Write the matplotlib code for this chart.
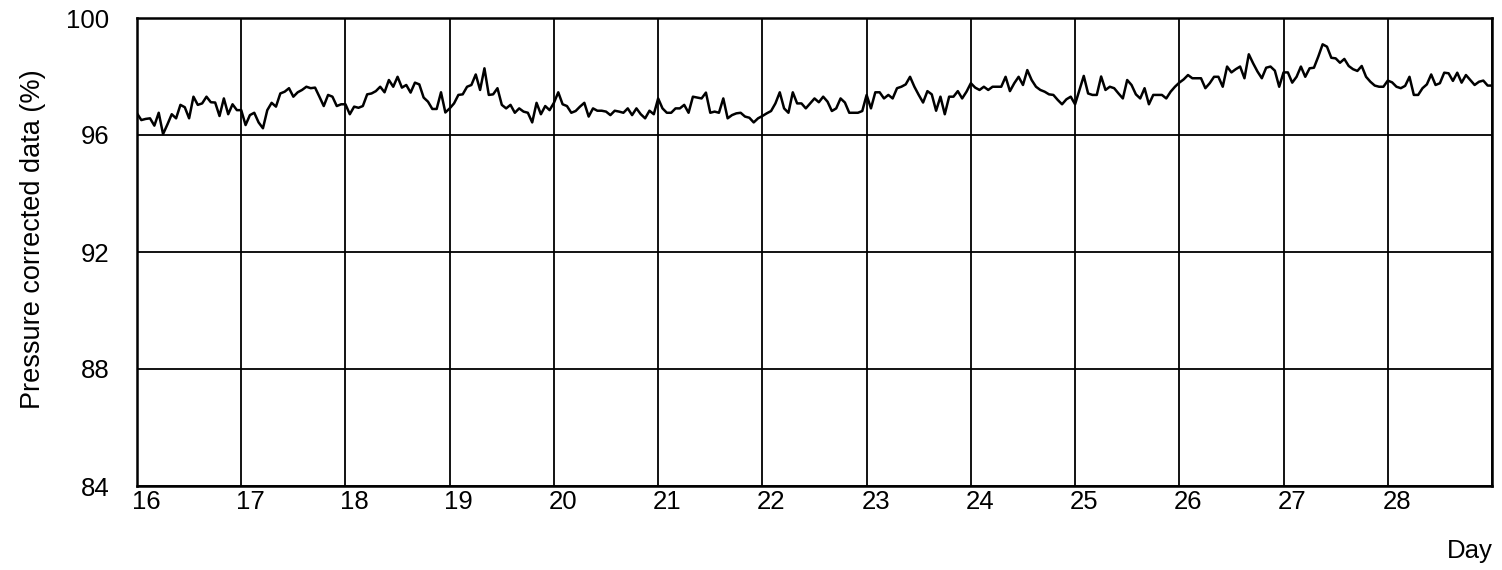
import numpy as np
import matplotlib
matplotlib.use("Agg")
import matplotlib.pyplot as plt
from matplotlib import transforms

plt.rcParams['font.family'] = ['Liberation Sans', 'DejaVu Sans']

# Hourly pressure-corrected data (%), one list per day, starting at 0:00
day16 = [96.74, 96.51, 96.55, 96.57, 96.32, 96.76, 96.03, 96.36, 96.71, 96.57, 97.03, 96.95,
         96.57, 97.31, 97.03, 97.08, 97.31, 97.12, 97.11, 96.65, 97.25, 96.71, 97.05, 96.85]
day17 = [96.85, 96.34, 96.68, 96.76, 96.43, 96.23, 96.85, 97.10, 96.97, 97.42, 97.48, 97.60,
         97.31, 97.46, 97.54, 97.65, 97.60, 97.62, 97.31, 96.99, 97.37, 97.31, 96.99, 97.05]
day18 = [97.05, 96.71, 96.97, 96.93, 96.99, 97.39, 97.42, 97.50, 97.65, 97.46, 97.88, 97.65,
         97.99, 97.62, 97.71, 97.45, 97.79, 97.73, 97.28, 97.14, 96.89, 96.89, 97.46, 96.77]
day19 = [96.91, 97.08, 97.37, 97.39, 97.65, 97.71, 98.07, 97.54, 98.28, 97.37, 97.39, 97.60,
         97.03, 96.91, 97.03, 96.76, 96.91, 96.80, 96.76, 96.43, 97.10, 96.71, 96.99, 96.85]
day20 = [97.10, 97.46, 97.05, 96.99, 96.76, 96.82, 96.97, 97.10, 96.63, 96.91, 96.83, 96.83,
         96.80, 96.68, 96.83, 96.80, 96.76, 96.91, 96.68, 96.91, 96.71, 96.57, 96.83, 96.71]
day21 = [97.25, 96.91, 96.76, 96.76, 96.91, 96.91, 97.03, 96.76, 97.31, 97.28, 97.25, 97.45,
         96.76, 96.80, 96.76, 97.25, 96.57, 96.68, 96.74, 96.76, 96.63, 96.59, 96.43, 96.57]
day22 = [96.65, 96.74, 96.82, 97.08, 97.46, 96.91, 96.76, 97.46, 97.08, 97.08, 96.91, 97.08,
         97.25, 97.12, 97.31, 97.14, 96.82, 96.91, 97.25, 97.11, 96.76, 96.76, 96.76, 96.82]
day23 = [97.37, 96.91, 97.46, 97.46, 97.25, 97.37, 97.25, 97.60, 97.65, 97.73, 97.99, 97.65,
         97.37, 97.11, 97.50, 97.39, 96.83, 97.31, 96.71, 97.31, 97.31, 97.50, 97.25, 97.48]
day24 = [97.77, 97.62, 97.54, 97.65, 97.54, 97.65, 97.65, 97.65, 97.99, 97.50, 97.77, 97.99,
         97.71, 98.22, 97.88, 97.65, 97.54, 97.48, 97.39, 97.37, 97.20, 97.05, 97.22, 97.31]
day25 = [97.05, 97.54, 98.02, 97.42, 97.37, 97.37, 98.00, 97.54, 97.65, 97.60, 97.42, 97.25,
         97.88, 97.71, 97.39, 97.25, 97.60, 97.05, 97.37, 97.37, 97.37, 97.25, 97.48, 97.65]
day26 = [97.79, 97.90, 98.05, 97.94, 97.94, 97.94, 97.60, 97.77, 97.99, 97.99, 97.65, 98.34,
         98.14, 98.25, 98.34, 97.94, 98.76, 98.45, 98.17, 97.94, 98.30, 98.34, 98.20, 97.65]
day27 = [98.14, 98.14, 97.79, 97.99, 98.34, 97.99, 98.28, 98.30, 98.68, 99.10, 99.02, 98.64,
         98.62, 98.47, 98.60, 98.36, 98.25, 98.19, 98.36, 97.99, 97.82, 97.69, 97.65, 97.65]
day28 = [97.86, 97.80, 97.65, 97.60, 97.68, 97.99, 97.37, 97.37, 97.60, 97.73, 98.07, 97.71,
         97.77, 98.13, 98.11, 97.85, 98.13, 97.79, 98.05, 97.88, 97.71, 97.82, 97.86, 97.69]
day29_start = [97.69]

start_day = 16
x_ticks = [16, 17, 18, 19, 20, 21, 22, 23, 24, 25, 26, 27, 28]
y_ticks = [84, 88, 92, 96, 100]

values = (day16 + day17 + day18 + day19 + day20 + day21 + day22 + day23 +
          day24 + day25 + day26 + day27 + day28 + day29_start)
values = np.array(values)
days = start_day + np.arange(len(values)) / 24.0

fig = plt.figure(figsize=(15.02, 5.70), dpi=100)
ax = fig.add_axes([137/1502, 1 - 486/570, (1492 - 137)/1502, (486 - 18)/570])

ax.plot(days, values, color='black', linewidth=1.8, zorder=3)

ax.set_xlim(16, 29)
ax.set_ylim(84, 100)
ax.set_xticks(x_ticks)
ax.set_yticks(y_ticks)
ax.set_xticks([29], minor=True)
ax.grid(True, which='both', color='black', linewidth=1.3, zorder=1)
ax.tick_params(axis='both', which='both', length=0, labelsize=18.5)
ax.tick_params(axis='x', pad=3)
ax.tick_params(axis='y', pad=20)
for lab in ax.get_xticklabels():
    lab.set_transform(lab.get_transform() + transforms.ScaledTranslation(9/100, 0, fig.dpi_scale_trans))
for s in ax.spines.values():
    s.set_linewidth(1.8)
    s.set_color('black')

ax.set_ylabel('Pressure corrected data (%)', fontsize=19.5)
ax.yaxis.set_label_coords(-(137 - 46)/1355, (486 - 239)/468)
fig.text(1493/1502, 1 - 551/570, 'Day', ha='right', va='center', fontsize=18.5)

fig.savefig('out.png', dpi=100)
